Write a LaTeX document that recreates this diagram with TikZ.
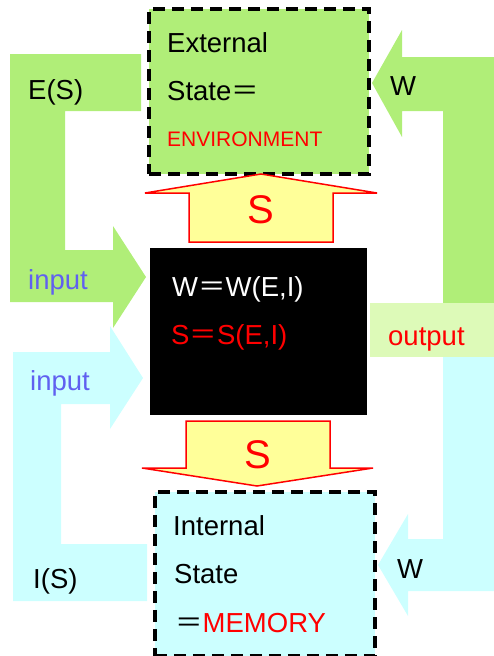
\documentclass[tikz,border=0pt]{standalone}
\usepackage{fontspec}
\setmainfont{Liberation Sans}
\newfontfamily\cjk{Noto Sans CJK JP}
\newcommand{\fweq}{{\cjk ＝}}
\definecolor{envgreen}{RGB}{176,238,120}
\definecolor{memcyan}{RGB}{204,255,255}
\definecolor{outgreen}{RGB}{221,250,184}
\definecolor{syellow}{RGB}{255,255,153}
\definecolor{inblue}{RGB}{96,96,240}

\begin{document}
\begin{tikzpicture}[x=1pt,y=-1pt,
  every node/.style={font=\fontsize{27.5}{27.5}\selectfont},
  lbl/.style={anchor=base west,inner sep=0pt},
  statebox/.style={draw,dash pattern=on 12pt off 7pt,line width=3.5pt,anchor=north west,inner sep=0pt},
  sarrow/.style={draw=red,fill=syellow,line width=1.5pt,line join=miter},
  bigs/.style={font=\fontsize{40}{40}\selectfont,text=red,anchor=base,inner sep=0pt}]
\useasboundingbox (0,0) rectangle (494,656);

% feedback arrows
\fill[envgreen] (10,54) -- (141,54) -- (141,111) -- (65,111) -- (65,250) -- (113,250) -- (113,226)
  -- (146,277) -- (113,328) -- (113,302) -- (10,302) -- cycle;
\fill[memcyan] (13,601) -- (147,601) -- (147,544) -- (61,544) -- (61,404) -- (110,404) -- (110,429)
  -- (143,378) -- (110,326) -- (110,352) -- (13,352) -- cycle;
\fill[envgreen] (494,57) -- (402,57) -- (402,30) -- (372,83) -- (402,137) -- (402,111)
  -- (443,111) -- (443,303) -- (494,303) -- cycle;
\fill[memcyan] (494,357) -- (443,357) -- (443,539) -- (408,539) -- (408,514) -- (378,565)
  -- (408,616) -- (408,591) -- (494,591) -- cycle;
\fill[outgreen] (370,303) rectangle (494,357);

% states and process
\node[statebox,fill=envgreen,minimum width=220pt,minimum height=165pt] (ext) at (147,7) {};
\node[fill=black,anchor=north west,inner sep=0pt,minimum width=217pt,minimum height=167pt] (proc) at (150,248) {};
\node[statebox,fill=memcyan,minimum width=220pt,minimum height=164pt] (int) at (153,490) {};

% S arrows
\draw[sarrow] (189,242) -- (189,193) -- (145,193) -- (261,174) -- (377,193) -- (333,193) -- (333,242) -- cycle;
\draw[sarrow] (186,421) -- (330,421) -- (330,468) -- (373,468) -- (257,486) -- (142,468) -- (186,468) -- cycle;
\node[bigs] (sup) at (261,223) {S};
\node[bigs] (sdown) at (258,468) {S};

% labels
\foreach \x/\y/\t/\n in {167/52/External/ext1, 167/100/State\fweq/ext2, 28/99/E(S)/es,
  390/95/W/wtop, 33/588/I(S)/is, 173/535/Internal/int1, 174/583/State/int2, 397/578/W/wlow}
  \node[lbl] (\n) at (\x,\y) {\t};
\node[lbl,text=red,font=\fontsize{21}{21}\selectfont] (ext3) at (167,146) {ENVIRONMENT};
\node[lbl] (int3) at (175,632) {\fweq\textcolor{red}{MEMORY}};
\node[lbl,text=inblue] (ingreen) at (28,289) {input};
\node[lbl,text=inblue] (incyan) at (30,390) {input};
\node[lbl,text=red] (out) at (388,345) {output};
\node[lbl,text=white] (weq) at (172,296) {W\fweq W(E,I)};
\node[lbl,text=red] (seq) at (171,344) {S\fweq S(E,I)};
\end{tikzpicture}
\end{document}
